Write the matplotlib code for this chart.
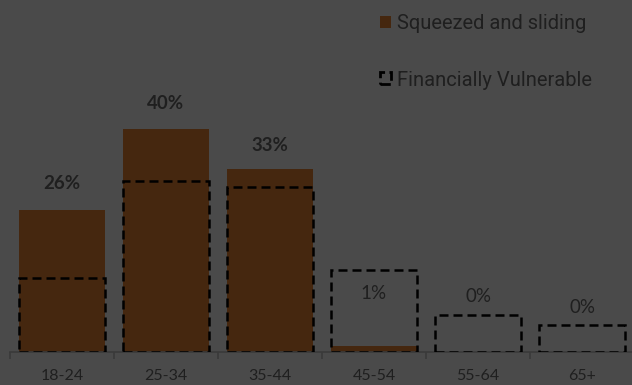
import matplotlib.pyplot as plt
from matplotlib.patches import Patch

# data
ages = ['18-24', '25-34', '35-44', '45-54', '55-64', '65+']
squeezed = [25.6, 40.2, 32.9, 1.0, 0.0, 0.0]
vulnerable = [13.3, 30.8, 29.7, 14.8, 6.7, 4.9]
labels = ['26%', '40%', '33%', '1%', '0%', '0%']
bold_labels = [True, True, True, False, False, False]

bg = '#4a4a4a'
brown = '#45270f'
txt = '#1f1f1f'

fig = plt.figure(figsize=(6.32, 3.85), dpi=100, facecolor=bg)
ax = fig.add_axes([10 / 632, 33 / 385, 624 / 632, 352 / 385], facecolor=bg)

x = list(range(len(ages)))
ax.bar(x, squeezed, width=0.83, color=brown, zorder=2)
ax.bar(x, vulnerable, width=0.83, fill=False, edgecolor='black',
       linewidth=1.8, linestyle=(0, (3.6, 2.0)), zorder=3)

# data labels, offset in points above the brown bar
label_off = [19, 18, 17, 38, 40, 32]
for i, lab in enumerate(labels):
    ax.annotate(lab, (i, squeezed[i]), xytext=(0, label_off[i]), textcoords='offset points',
                ha='center', va='center', color=txt, family='Lato', fontsize=13.5,
                fontweight='bold' if bold_labels[i] else 'normal')

ax.set_xlim(-0.5, 5.5)
ax.set_ylim(0, 63.4)
ax.set_yticks([])
ax.set_xticks(x)
ax.set_xticklabels(ages, family='Lato', fontsize=11.5, color=txt)
ax.set_xticks([i - 0.5 for i in range(len(ages) + 1)], minor=True)
ax.tick_params(axis='x', which='major', length=0, pad=12)
ax.tick_params(axis='x', which='minor', length=5, width=1.2, color='#3a3a3a')
for s in ['top', 'right', 'left']:
    ax.spines[s].set_visible(False)
ax.spines['bottom'].set_color('#3a3a3a')
ax.spines['bottom'].set_linewidth(1.2)

handles = [Patch(facecolor=brown, edgecolor='none', label='Squeezed and sliding'),
           Patch(facecolor='none', edgecolor='black', linestyle='--', linewidth=2,
                 label='Financially Vulnerable')]
leg = fig.legend(handles=handles, loc='upper left', bbox_to_anchor=(362 / 632, 1.01),
                 frameon=False, prop={'family': 'Roboto', 'size': 14.5},
                 labelcolor=txt, handlelength=0.55, handleheight=0.55,
                 handletextpad=0.3, labelspacing=1.85)

fig.savefig('out.png', dpi=100, facecolor=bg)
